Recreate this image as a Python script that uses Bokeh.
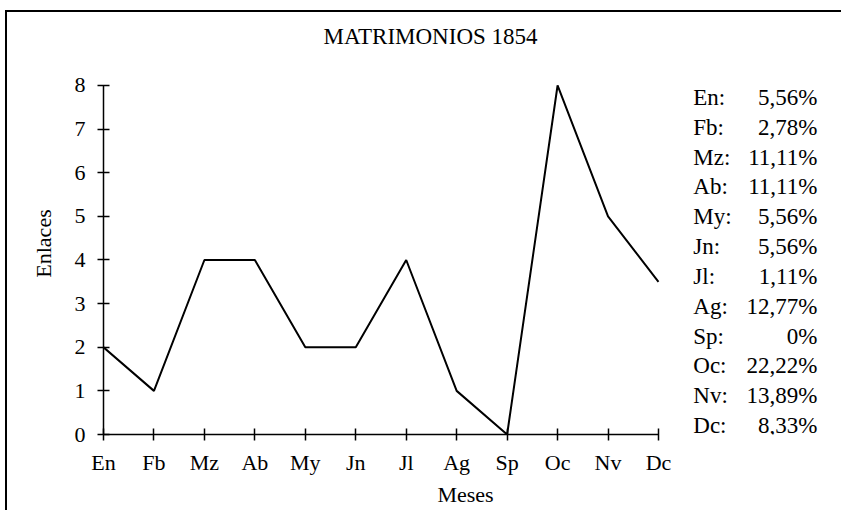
from bokeh.plotting import figure
from bokeh.models import Range1d, FixedTicker, ColumnDataSource
from bokeh.core.properties import value
from bokeh.embed import file_html
from bokeh.resources import INLINE

months = ["En", "Fb", "Mz", "Ab", "My", "Jn", "Jl", "Ag", "Sp", "Oc", "Nv", "Dc"]
enlaces = [2, 1, 4, 4, 2, 2, 4, 1, 0, 8, 5, 3.5]
percents = ["5,56%", "2,78%", "11,11%", "11,11%", "5,56%", "5,56%",
            "1,11%", "12,77%", "0%", "22,22%", "13,89%", "8,33%"]
y_ticks = [0, 1, 2, 3, 4, 5, 6, 7, 8]

FONT = "Liberation Serif"
FS = "22px"
FS_BIG = "23px"

xs = list(range(len(months)))

p = figure(width=836, height=500, output_backend="svg", toolbar_location=None,
           x_range=Range1d(0, 14.35), y_range=Range1d(0, 8.756),
           min_border_left=96, min_border_right=16, min_border_top=40,
           min_border_bottom=78, title="MATRIMONIOS 1854")
# outer frame: only top and left edges are visible in the original
p.styles = {"border-top": "2px solid black", "border-left": "2px solid black",
            "margin-left": "5px", "margin-top": "10px"}

p.title.text_font = FONT
p.title.text_font_size = FS_BIG
p.title.text_font_style = "normal"
p.title.text_color = "black"
p.title.align = "left"
p.title.offset = 220
p.title.standoff = 8

p.grid.visible = False
p.outline_line_color = None
p.background_fill_color = "white"
p.border_fill_color = "white"

p.line(xs, enlaces, line_color="black", line_width=2)

# percentage table on the right
n = len(months)
row_top, row_step = 7.725, 0.6838
ly = [row_top - i * row_step for i in range(n)]
src = ColumnDataSource(dict(y=ly, lab=[m + ":" for m in months], pct=percents,
                            xl=[11.69] * n, xr=[14.15] * n))
p.text(x="xl", y="y", text="lab", source=src, text_font=value(FONT),
       text_font_size=FS_BIG, text_baseline="middle", text_align="left",
       text_color="black")
p.text(x="xr", y="y", text="pct", source=src, text_font=value(FONT),
       text_font_size=FS_BIG, text_baseline="middle", text_align="right",
       text_color="black")

for ax in (p.xaxis[0], p.yaxis[0]):
    ax.axis_line_color = "black"
    ax.axis_line_width = 1.5
    ax.major_tick_line_color = "black"
    ax.major_tick_line_width = 1.5
    ax.major_tick_in = 6
    ax.major_tick_out = 6
    ax.minor_tick_line_color = None
    ax.major_label_text_font = FONT
    ax.major_label_text_font_size = FS
    ax.major_label_text_color = "black"
    ax.axis_label_text_font = FONT
    ax.axis_label_text_font_size = FS
    ax.axis_label_text_font_style = "normal"
    ax.axis_label_text_color = "black"

p.xaxis.bounds = (0, 11)
p.xaxis.ticker = FixedTicker(ticks=xs)
p.xaxis.major_label_overrides = {i: m for i, m in enumerate(months)}
p.xaxis.major_label_standoff = 9
p.xaxis.axis_label = "Meses"
p.xaxis.axis_label_standoff = 4

p.yaxis.bounds = (0, 8)
p.yaxis.ticker = FixedTicker(ticks=y_ticks)
p.yaxis.major_label_standoff = 12
p.yaxis.axis_label = "Enlaces"
p.yaxis.axis_label_standoff = 16

open("out.html", "w").write(file_html(p, INLINE))
